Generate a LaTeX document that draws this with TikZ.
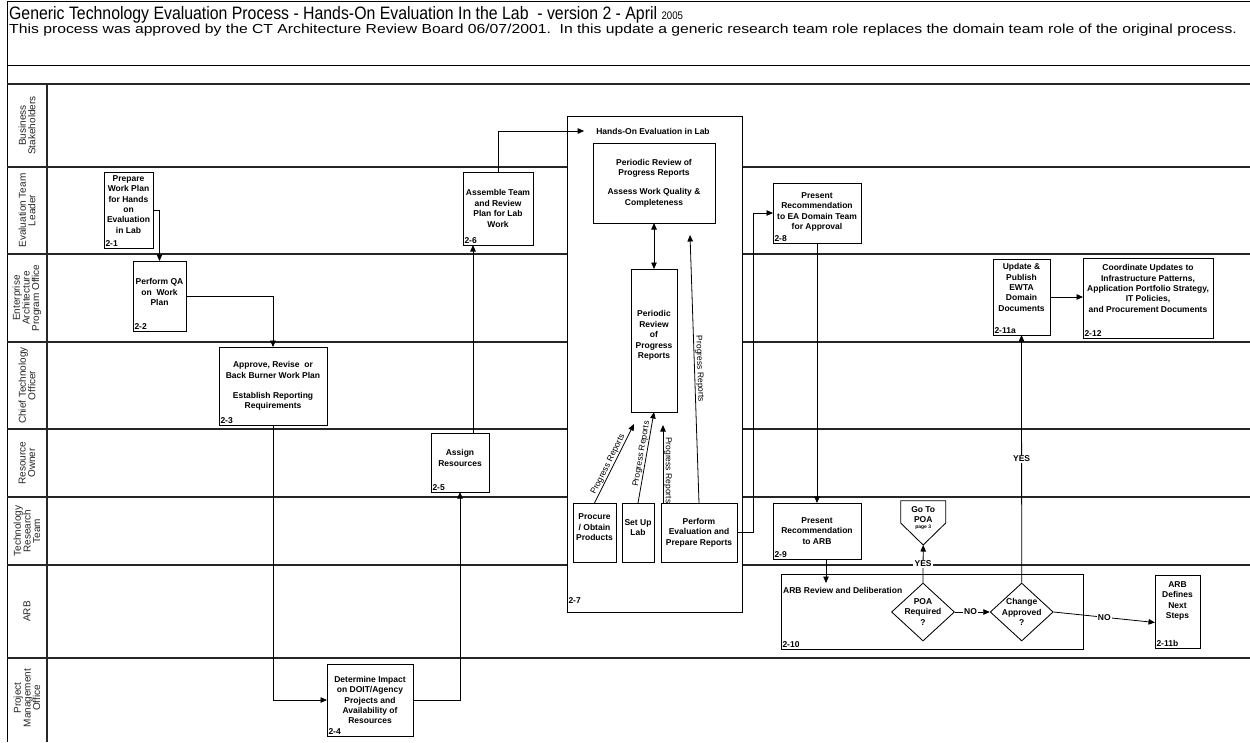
\documentclass[tikz,border=0pt]{standalone}
\usepackage{fontspec}
\setmainfont{Liberation Sans}
\usetikzlibrary{arrows.meta,shapes.geometric,calc}

\newcommand\boxfont{\fontsize{8.5}{10.4}\selectfont\bfseries}
\newcommand\lanefont{\fontsize{10}{9.6}\selectfont}
\newcommand\prfont{\fontsize{8.5}{9}\selectfont}

\tikzset{
  frame/.style={line width=1pt, draw=black},
  lane/.style={line width=1.3pt, draw=black!85},
  proc/.style={draw=black, line width=0.85pt, fill=white, inner sep=0pt, outer sep=0pt},
  ptext/.style={font=\boxfont, align=center, inner sep=0pt},
  pid/.style={font=\boxfont, inner sep=1.3pt, anchor=south west},
  flow/.style={line width=0.8pt, -{Triangle[length=6.5pt,width=5.5pt]}},
  both/.style={line width=0.8pt, {Triangle[length=6.5pt,width=5.5pt]}-{Triangle[length=6.5pt,width=5.5pt]}},
  lanelabel/.style={font=\lanefont, align=center, rotate=90, text=black!85, inner sep=0pt},
  tag/.style={font=\boxfont, fill=white, inner sep=1.2pt},
  prl/.style={font=\prfont, inner sep=0.8pt},
  decision/.style={diamond, draw=black, line width=0.85pt, fill=white, inner sep=0pt,
    minimum width=63, minimum height=58},
}

% process box: name, x1, y1, x2, y2, text, id, vertical text offset
\newcommand\pbox[8]{%
  \node[proc, minimum width={#4-#2}, minimum height={#5-#3}] (#1) at ({(#2+#4)/2},{(#3+#5)/2}) {};
  \node[ptext] (#1-txt) at ($(#1.center)+(0,#8)$) {#6};
  \node[pid] (#1-id) at (#1.south west) {#7};
}
% inner activity box without id: name, x1, y1, x2, y2, text, vertical text offset
\newcommand\ibox[7]{%
  \node[proc, minimum width={#4-#2}, minimum height={#5-#3}] (#1) at ({(#2+#4)/2},{(#3+#5)/2}) {};
  \node[ptext] (#1-txt) at ($(#1.center)+(0,#7)$) {#6};
}

\begin{document}
\begin{tikzpicture}[x=1pt,y=-1pt]
\useasboundingbox (0,0) rectangle (1250,742);
\fill[white] (0,0) rectangle (1250,742);

% header and swimlane grid
\draw[frame] (1250,1) -- (7,1) -- (7,742);
\draw[frame] (7,65) -- (1250,65);
\draw[lane] (7,84) -- (1250,84);
\draw[lane] (47,84) -- (47,742);
\foreach \y in {167,254,342,429,497,565,658} \draw[lane] (7,\y) -- (1250,\y);

\node[anchor=base west, inner sep=0pt, xscale=0.88, font=\fontsize{18}{20}\selectfont] (title) at (9,19)
  {Generic Technology Evaluation Process - Hands-On Evaluation In the Lab\ \ - version 2 - April {\fontsize{11}{12}\selectfont 2005}};
\node[anchor=base west, inner sep=0pt, xscale=1.2, font=\fontsize{13.1}{15}\selectfont] (subtitle) at (9,33)
  {This process was approved by the CT Architecture Review Board 06/07/2001.\ \ In this update a generic research team role replaces the domain team role of the original process.};

% lane names
\node[lanelabel] (l1) at (27,125.5) {Business\\Stakeholders};
\node[lanelabel] (l2) at (27,210.5) {Evaluation Team\\Leader};
\node[lanelabel] (l3) at (27,298) {Enterprise\\Architecture\\Program Office};
\node[lanelabel] (l4) at (27,385.5) {Chief Technology\\Officer};
\node[lanelabel] (l5) at (27,463) {Resource\\Owner};
\node[lanelabel] (l6) at (27,531) {Technology\\Research\\Team};
\node[lanelabel] (l7) at (27,611.5) {ARB};
\node[lanelabel] (l8) at (27,698) {Project\\Management\\Office};

% process steps
\pbox{b21}{104}{172}{153}{248}{Prepare\\Work Plan\\for Hands\\on\\Evaluation\\in Lab}{2-1}{-5.5}
\pbox{b22}{133}{261}{186}{331}{Perform QA\\on\ \ Work\\Plan}{2-2}{-4}
\pbox{b23}{219}{347}{327}{425}{Approve, Revise\ \ or\\Back Burner Work Plan\\[10pt]Establish Reporting\\Requirements}{2-3}{0}
\pbox{b24}{327}{664}{413}{736}{Determine Impact\\on DOIT/Agency\\Projects and\\Availability of\\Resources}{2-4}{0}
\pbox{b25}{431}{433}{489}{492}{Assign\\Resources}{2-5}{-4.5}
\pbox{b26}{463}{172}{533}{245}{Assemble Team\\and Review\\Plan for Lab\\Work}{2-6}{0}

% hands-on evaluation container
\node[proc, minimum width=175, minimum height=496] (b27) at (654.5,364) {};
\node[pid] (b27-id) at ($(b27.south west)+(0,-7)$) {2-7};
\node[ptext] (t27) at (653,131) {Hands-On Evaluation in Lab};
\ibox{i1}{593}{143}{715}{223}{Periodic Review of\\Progress Reports\\[9pt]Assess Work Quality \&\\Completeness}{0}
\ibox{i2}{631}{269}{677}{412}{Periodic\\Review\\of\\Progress\\Reports}{-5}
\ibox{i3}{573}{503}{616}{562}{Procure\\/ Obtain\\Products}{-5}
\ibox{i4}{622}{503}{654}{562}{Set Up\\Lab}{-5}
\ibox{i5}{661}{503}{737}{562}{Perform\\Evaluation and\\Prepare Reports}{0}

\pbox{b28}{773}{183}{861}{243}{Present\\Recommendation\\to EA Domain Team\\for Approval}{2-8}{-1}
\pbox{b29}{773}{503}{861}{559}{Present\\Recommendation\\to ARB}{2-9}{0}

% ARB review container
\node[proc, minimum width=302, minimum height=75] (b210) at (932,611.5) {};
\node[ptext, anchor=west] (t210) at (783,590) {ARB Review and Deliberation};
\node[pid] (b210-id) at (b210.south west) {2-10};
\node[decision] (d1) at (923,612) {};
\node[ptext] (d1-txt) at (d1) {POA\\Required\\?};
\node[decision] (d2) at (1021.7,612) {};
\node[ptext] (d2-txt) at (d2) {Change\\Approved\\?};

% off-page connector
\draw[line width=0.85pt, fill=white] (900.7,500.7) -- (945.7,500.7) -- (945.7,523) -- (923.2,545) -- (900.7,523) -- cycle;
\coordinate (poatip) at (923.2,545);
\node[ptext] (poa) at (923.2,514.3) {Go To\\POA};
\node[inner sep=0pt, font=\fontsize{5}{6}\selectfont\bfseries] (poapage) at (923.2,527.5) {page 3};

\pbox{b211a}{993}{259}{1050}{335}{Update \&\\Publish\\EWTA\\Domain\\Documents}{2-11a}{-9.5}
\pbox{b212}{1083}{258}{1213}{338}{Coordinate Updates to\\Infrastructure Patterns,\\Application Portfolio Strategy,\\IT Policies,\\and Procurement Documents}{2-12}{-9.5}
\pbox{b211b}{1155}{575}{1200}{648}{ARB\\Defines\\Next\\Steps}{2-11b}{-10.7}

% free ends and routing columns
\coordinate (c56) at (473,0);
\coordinate (c910) at (826,0);
\coordinate (a10) at (826,583);
\coordinate (pr1) at (634,424);
\coordinate (pr3) at (663,425);
\coordinate (pr4) at (690,235);

% flow
\draw[flow] (b21.east) -| (b22.north);
\draw[flow] (b22.east) -| (b23.north);
\draw[flow] (b23.south) |- (b24.west);
\draw[flow] (b24.east) -| (b25.south);
\draw[flow] (b25.north -| c56) -- (b26.south -| c56);
\draw[flow] (b26.north) |- ([xshift=-12pt]t27.west);
\draw[both] (i1.south) -- (i2.north);
\draw[flow] (i3.north) -- (pr1) node[prl, sloped, above, pos=0.46] {Progress Reports};
\draw[flow] (i4.north) -- (i2.south) node[prl, sloped, above, pos=0.53] {Progress Reports};
\draw[flow] ([xshift=2pt]i5.north west) -- (pr3) node[prl, pos=0.42, rotate=-90, anchor=south] {Progress Reports};
\draw[flow] (i5.north) -- (pr4) node[prl, pos=0.5, rotate=-88, anchor=south] {Progress Reports};
\draw[flow] (i5.east) -- ++(16,0) |- (b28.west);
\draw[flow] (b28.south) -- (b29.north);
\draw[flow] (b29.south -| c910) -- (a10);
\draw[flow] (d1.north) -- (poatip) node[tag, pos=0.5] {YES};
\draw[flow] (d1.east) -- (d2.west) node[tag, pos=0.45] {NO};
\draw[flow] (d2.north) -- (b211a.south) node[tag, pos=0.5] {YES};
\draw[flow] (d2.east) -- ([yshift=-11pt]b211b.west) node[tag, pos=0.5] {NO};
\draw[flow] (b211a.east) -- (b211a.east -| b212.west);
\end{tikzpicture}
\end{document}
